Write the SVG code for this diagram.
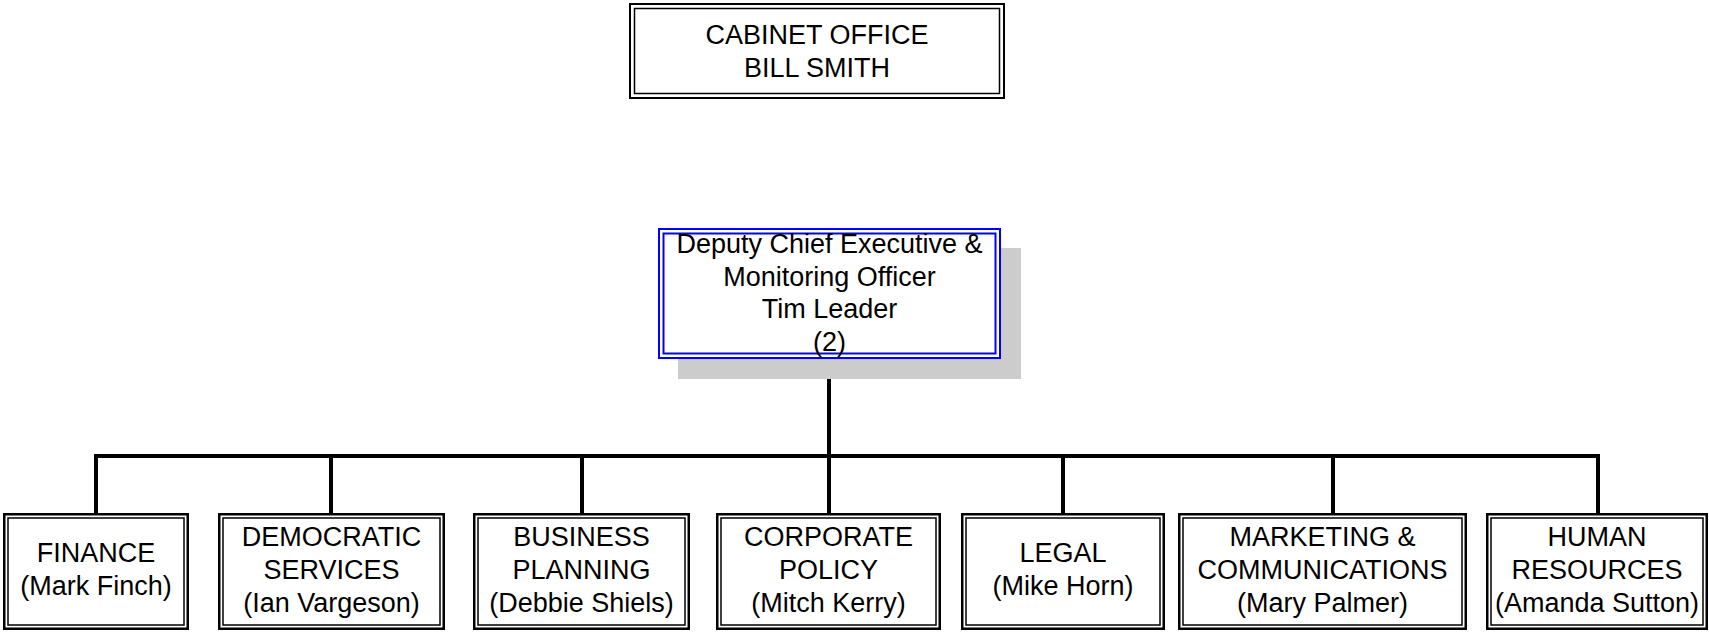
<svg xmlns="http://www.w3.org/2000/svg" width="1709" height="632" viewBox="0 0 1709 632">
<style>
text{font-family:"Liberation Sans",Arial,sans-serif;font-size:27px;fill:#000;text-anchor:middle}
.o{fill:#fff;stroke:#000;stroke-width:2.5}
.i{fill:none;stroke:#000;stroke-width:1.5}
.bo{fill:#fff;stroke:#0000ff;stroke-width:2}
.bi{fill:none;stroke:#0000ff;stroke-width:2}
.c{fill:none;stroke:#000;stroke-width:4;stroke-linejoin:miter;stroke-linecap:butt}
</style>
<rect width="1709" height="632" fill="#fff"/>
<g id="cabinet">
<rect class="o" x="630" y="4" width="374" height="94" style="stroke-width:2"/>
<rect class="i" x="634.5" y="8.5" width="365" height="85"/>
<text x="817" y="44">CABINET OFFICE</text>
<text x="817" y="77">BILL SMITH</text>
</g>
<g id="connectors">
<path class="c" d="M829 359V513"/>
<path class="c" d="M96 513V456H1598V513"/>
<path class="c" d="M331 456V513M582 456V513M1063 456V513M1333 456V513"/>
</g>
<g id="deputy">
<rect x="678" y="248" width="343" height="131" fill="#cccccc"/>
<rect class="bo" x="659" y="229" width="341" height="129"/>
<rect class="bi" x="663.5" y="233.5" width="332" height="120"/>
<text x="829.5" y="253">Deputy Chief Executive &amp;</text>
<text x="829.5" y="286">Monitoring Officer</text>
<text x="829.5" y="318">Tim Leader</text>
<text x="829.5" y="351">(2)</text>
</g>
<g id="finance">
<rect class="o" x="4.25" y="514.25" width="183.5" height="114.5"/>
<rect class="i" x="8" y="518" width="176" height="107"/>
<text x="96" y="562">FINANCE</text>
<text x="96" y="595">(Mark Finch)</text>
</g>
<g id="democratic">
<rect class="o" x="219.25" y="514.25" width="224.5" height="114.5"/>
<rect class="i" x="223" y="518" width="217" height="107"/>
<text x="331.5" y="546">DEMOCRATIC</text>
<text x="331.5" y="579">SERVICES</text>
<text x="331.5" y="612">(Ian Vargeson)</text>
</g>
<g id="business">
<rect class="o" x="474.25" y="514.25" width="214.5" height="114.5"/>
<rect class="i" x="478" y="518" width="207" height="107"/>
<text x="581.5" y="546">BUSINESS</text>
<text x="581.5" y="579">PLANNING</text>
<text x="581.5" y="612">(Debbie Shiels)</text>
</g>
<g id="corporate">
<rect class="o" x="717.25" y="514.25" width="222.5" height="114.5"/>
<rect class="i" x="721" y="518" width="215" height="107"/>
<text x="828.5" y="546">CORPORATE</text>
<text x="828.5" y="579">POLICY</text>
<text x="828.5" y="612">(Mitch Kerry)</text>
</g>
<g id="legal">
<rect class="o" x="962.25" y="514.25" width="201.5" height="114.5"/>
<rect class="i" x="966" y="518" width="194" height="107"/>
<text x="1063" y="562">LEGAL</text>
<text x="1063" y="595">(Mike Horn)</text>
</g>
<g id="marketing">
<rect class="o" x="1179.25" y="514.25" width="286.5" height="114.5"/>
<rect class="i" x="1183" y="518" width="279" height="107"/>
<text x="1322.5" y="546">MARKETING &amp;</text>
<text x="1322.5" y="579">COMMUNICATIONS</text>
<text x="1322.5" y="612">(Mary Palmer)</text>
</g>
<g id="hr">
<rect class="o" x="1487.25" y="514.25" width="219.5" height="114.5"/>
<rect class="i" x="1491" y="518" width="212" height="107"/>
<text x="1597" y="546">HUMAN</text>
<text x="1597" y="579">RESOURCES</text>
<text x="1597" y="612">(Amanda Sutton)</text>
</g>
</svg>
